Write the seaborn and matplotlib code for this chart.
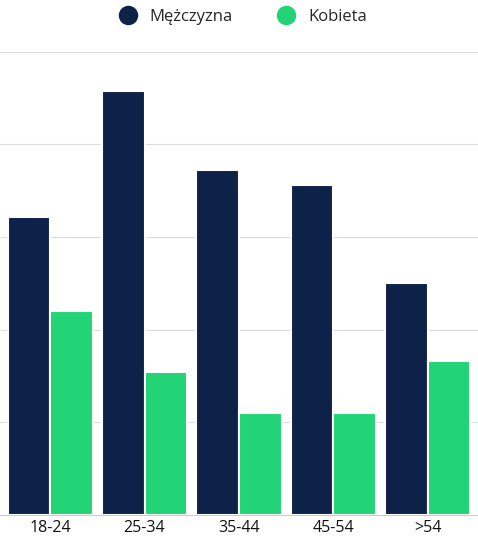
import seaborn as sns
import matplotlib.pyplot as plt
import pandas as pd

groups = ["18-24", "25-34", "35-44", "45-54", ">54"]
men = [16.1, 22.9, 18.6, 17.8, 12.5]
women = [11.0, 7.7, 5.5, 5.5, 8.3]

df = pd.DataFrame({
    "grupa": groups * 2,
    "wartosc": men + women,
    "plec": ["Mężczyzna"] * 5 + ["Kobieta"] * 5,
})

sns.set_style("white")
plt.rcParams["font.family"] = ["Open Sans", "DejaVu Sans"]

fig = plt.figure(figsize=(4.78, 5.46), dpi=100)
ax = fig.add_axes([0.0, 0.057, 1.0, 0.848])
palette = {"Mężczyzna": "#0e2149", "Kobieta": "#22d475"}
sns.barplot(data=df, x="grupa", y="wartosc", hue="plec", palette=palette,
            width=0.9, edgecolor="white", linewidth=1.5, saturation=1, ax=ax, zorder=3)

ax.set_ylim(0, 25)
ax.set_xlim(-0.53, 4.53)
ax.set_yticks([5, 10, 15, 20, 25])
ax.set_yticklabels([])
ax.tick_params(axis="y", length=0)
ax.tick_params(axis="x", length=0, labelsize=11.5, colors="#111111", pad=4)
ax.grid(axis="y", color="#dddddd", linewidth=0.8, zorder=0)
ax.set_xlabel("")
ax.set_ylabel("")
for s in ["top", "right", "left"]:
    ax.spines[s].set_visible(False)
ax.spines["bottom"].set_color("#cccccc")

handles = [plt.Line2D([], [], marker="o", linestyle="", markersize=13, color=palette[k]) for k in palette]
ax.legend(handles, list(palette), loc="upper center", bbox_to_anchor=(0.5, 1.125), ncol=2,
          frameon=False, fontsize=12, handletextpad=0.3, columnspacing=2.2)

fig.savefig("out.png", dpi=100)
